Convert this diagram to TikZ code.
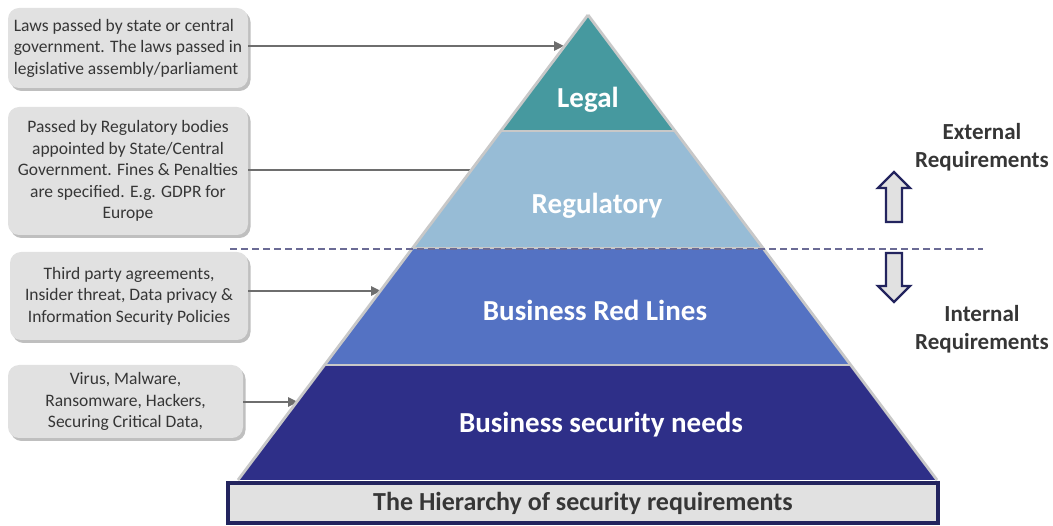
\documentclass[tikz,border=0pt]{standalone}
\usepackage{fontspec}
\setmainfont{Carlito}
\usetikzlibrary{arrows.meta,shadows}
\definecolor{legalc}{HTML}{46999F}
\definecolor{regc}{HTML}{97BCD6}
\definecolor{brlc}{HTML}{5472C3}
\definecolor{bsnc}{HTML}{2E2F88}
\definecolor{edgec}{HTML}{C8C8C8}
\definecolor{boxc}{HTML}{E1E1E1}
\definecolor{txtc}{HTML}{363636}
\definecolor{linkc}{HTML}{6E6E6E}
\definecolor{navyc}{HTML}{23245E}
\definecolor{dashc}{HTML}{6B6B95}
\tikzset{
  notebox/.style={rectangle, rounded corners=11pt, fill=boxc, draw=none,
    text=txtc, font=\fontsize{17.5}{21.5}\selectfont, align=center, inner sep=2pt,
    drop shadow={shadow xshift=2.5pt, shadow yshift=-3pt, fill=black, opacity=0.25}},
  link/.style={draw=linkc, line width=2.8pt, -{Triangle[length=10pt,width=9pt]}},
  plainlink/.style={draw=linkc, line width=2.8pt},
  layer/.style={draw=edgec, line width=2.8pt, line join=miter},
  tierlabel/.style={text=white, font=\fontsize{29}{33}\selectfont\bfseries},
  sidelabel/.style={text=txtc, font=\fontsize{23}{28}\selectfont\bfseries, align=center},
  blockarrow/.style={draw=navyc, line width=2.4pt, fill=boxc, line join=miter}
}
\begin{document}
\begin{tikzpicture}[x=1pt,y=-1pt]
\useasboundingbox (0,0) rectangle (1053,526);

% explanatory notes on the left
\node[notebox, align=left, minimum width=240pt, minimum height=80pt] (n1) at (128,48)
  {Laws passed by state or central\\government. The laws passed in\\legislative assembly/parliament};
\node[notebox, minimum width=240pt, minimum height=128pt] (n2) at (128,171)
  {Passed by Regulatory bodies\\appointed by State/Central\\Government. Fines \& Penalties\\are specified. E.g. GDPR for\\Europe};
\node[notebox, minimum width=238pt, minimum height=88pt] (n3) at (129,296)
  {Third party agreements,\\Insider threat, Data privacy \&\\Information Security Policies};
\node[notebox, minimum width=235pt, minimum height=73pt] (n4) at (125.5,401.5)
  {Virus, Malware,\\Ransomware, Hackers,\\Securing Critical Data,};

% points on the pyramid's left edge
\coordinate (t1) at (564,46);
\coordinate (t2) at (471,170);
\coordinate (t3) at (381,291);
\coordinate (t4) at (298,402);

\draw[link] (n1.east |- t1) -- (t1);
\draw[plainlink] (n2.east |- t2) -- (t2);
\draw[link] (n3.east |- t3) -- (t3);
\draw[link] (n4.east |- t4) -- (t4);

% pyramid tiers
\fill[bsnc] (324.6,365) -- (850.7,365) -- (937,480) -- (238,480) -- cycle;
\fill[brlc] (412.6,248) -- (762.9,248) -- (850.7,365) -- (324.6,365) -- cycle;
\fill[regc] (500.7,131) -- (675.1,131) -- (762.9,248) -- (412.6,248) -- cycle;
\fill[legalc] (588,15) -- (675.1,131) -- (500.7,131) -- cycle;
\draw[layer] (588,15) -- (937,480) (588,15) -- (238,480);
\draw[layer] (500.7,131) -- (675.1,131);
\draw[layer] (412.6,248) -- (762.9,248);
\draw[layer] (324.6,365) -- (850.7,365);

\node[tierlabel] (legal) at (588,100) {Legal};
\node[tierlabel] (reg) at (597,206) {Regulatory};
\node[tierlabel] (brl) at (595,310) {Business Red Lines};
\node[tierlabel] (bsn) at (601,425) {Business security needs};

% external / internal divide
\draw[dashc, line width=1.2pt, dash pattern=on 7pt off 4pt] (230,249) -- (983,249);

% title banner
\node[draw=navyc, line width=4.5pt, fill=boxc, minimum width=710pt, minimum height=40pt,
  inner sep=0pt, text=txtc, font=\fontsize{26}{28}\selectfont\bfseries] (title) at (583,503)
  {The Hierarchy of security requirements};

% direction labels and block arrows
\node[sidelabel] (ext) at (982,147) {External\\Requirements};
\node[sidelabel] (int) at (982,329) {Internal\\Requirements};
\draw[blockarrow] (894,172) -- (910,188) -- (902,188) -- (902,222) -- (886,222) -- (886,188) -- (878,188) -- cycle;
\draw[blockarrow] (894,302) -- (910,286) -- (902,286) -- (902,253) -- (886,253) -- (886,286) -- (878,286) -- cycle;
\end{tikzpicture}
\end{document}
